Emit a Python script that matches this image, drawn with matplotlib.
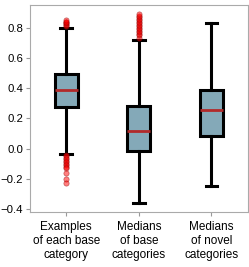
import matplotlib.pyplot as plt
import numpy as np

plt.rcParams['font.family'] = ['Liberation Sans', 'DejaVu Sans']

labels = ['Examples\nof each base\ncategory', 'Medians\nof base\ncategories', 'Medians\nof novel\ncategories']
medians = [0.385, 0.118, 0.252]
q1 = [0.277, -0.018, 0.082]
q3 = [0.491, 0.282, 0.387]
whislo = [-0.035, -0.36, -0.25]
whishi = [0.80, 0.722, 0.83]
fliers = [
    [0.81, 0.82, 0.825, 0.83, 0.835, 0.84, 0.85,
     -0.045, -0.05, -0.06, -0.07, -0.08, -0.09, -0.10, -0.11, -0.12, -0.13, -0.16, -0.20, -0.225],
    [0.735, 0.75, 0.76, 0.77, 0.78, 0.79, 0.80, 0.81, 0.82, 0.83, 0.84, 0.85, 0.86, 0.87, 0.88, 0.89],
    [],
]

stats = []
for i in range(3):
    stats.append(dict(med=medians[i], q1=q1[i], q3=q3[i], whislo=whislo[i],
                      whishi=whishi[i], fliers=fliers[i], label=labels[i]))

fig = plt.figure(figsize=(2.49, 2.67), dpi=100)
ax = fig.add_axes([0.12, 0.206, 0.875, 0.775])

ax.bxp(stats, widths=0.32, patch_artist=True,
       boxprops=dict(facecolor='#84a9b8', edgecolor='black', linewidth=2.2),
       medianprops=dict(color='#b22a2a', linewidth=2),
       whiskerprops=dict(color='black', linewidth=2.2),
       capprops=dict(color='black', linewidth=2.2),
       flierprops=dict(marker='o', markersize=3.8, markerfacecolor='red',
                       markeredgecolor='#8b0000', markeredgewidth=0.5, alpha=0.5))

ax.set_xlim(0.5, 3.5)
ax.set_ylim(-0.42, 0.95)
ax.set_yticks([-0.4, -0.2, 0.0, 0.2, 0.4, 0.6, 0.8])
ax.tick_params(labelsize=8.5, length=3, color='#999999')
ax.tick_params(axis='y', labelsize=8.2, pad=2)
for s in ax.spines.values():
    s.set_color('#aaaaaa')

plt.savefig('out.png')
